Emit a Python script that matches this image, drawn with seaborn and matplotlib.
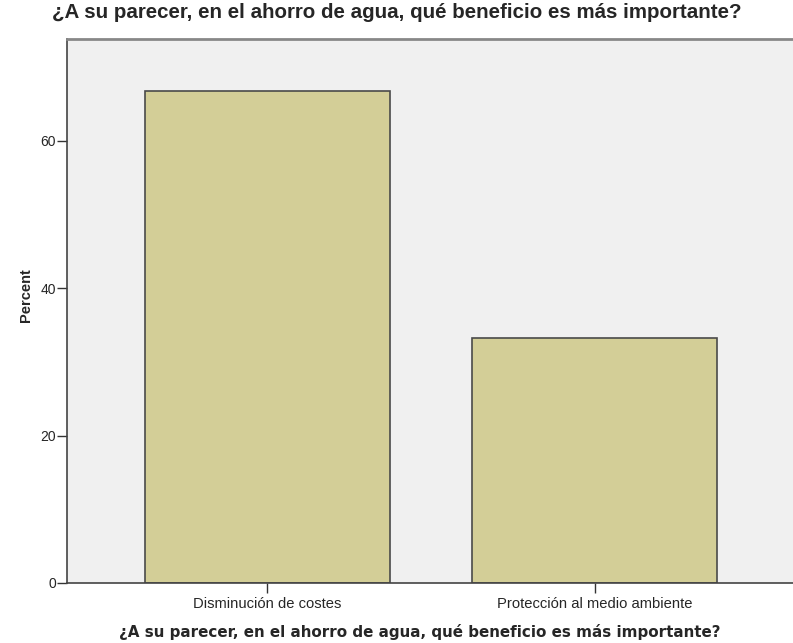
import matplotlib
matplotlib.use('Agg')
import matplotlib.pyplot as plt
import seaborn as sns
import pandas as pd

# Data
categories = ['Disminución de costes', 'Protección al medio ambiente']
percents = [66.7, 33.3]
y_ticks = [0, 20, 40, 60]
question = '¿A su parecer, en el ahorro de agua, qué beneficio es más importante?'

df = pd.DataFrame({'cat': categories, 'pct': percents})

sns.set_style('white')
plt.rcParams['font.family'] = ['Liberation Sans', 'DejaVu Sans']

fig = plt.figure(figsize=(7.93, 6.43), dpi=100)
ax = fig.add_axes([67 / 793, 1 - 583 / 643, (793 - 67) / 793, (583 - 39) / 643])
ax.set_facecolor('#F0F0F0')

sns.barplot(data=df, x='cat', y='pct', ax=ax, color='#D3CE97',
            saturation=1, width=0.748, edgecolor='#4A4A4A', linewidth=1.2)

ax.set_xlim(-0.612, 1.605)
ax.set_ylim(0, 73.8)
ax.set_yticks(y_ticks)
ax.tick_params(axis='both', direction='out', length=7, width=1, color='#333333',
               pad=1, left=True, bottom=True)
ax.tick_params(axis='y', labelsize=10)
ax.tick_params(axis='x', labelsize=10.6, pad=3)

for s in ['left', 'bottom']:
    ax.spines[s].set_color('#444444')
    ax.spines[s].set_linewidth(1.2)
ax.spines['top'].set_color('#888888')
ax.spines['top'].set_linewidth(2)
ax.spines['right'].set_visible(False)

ax.set_ylabel('Percent', fontsize=10.5, fontweight='bold')
ax.yaxis.set_label_coords(-0.047, 0.529)
ax.set_xlabel(question, fontsize=10.9, fontweight='bold', family='DejaVu Sans',
              va='center')
ax.xaxis.set_label_coords(0.486, -0.09)

fig.text(52 / 793, 1 - 12 / 643, question, fontsize=14.8, fontweight='bold',
         ha='left', va='center')

fig.savefig('out.png', dpi=100)
